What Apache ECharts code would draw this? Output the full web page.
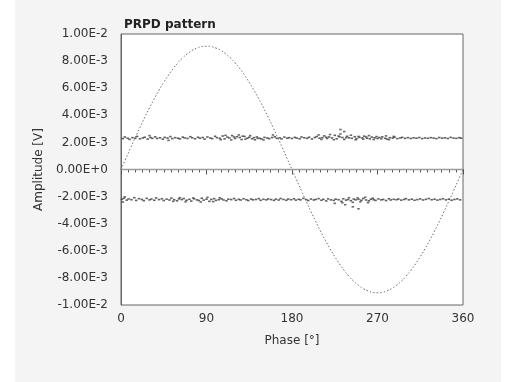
<!DOCTYPE html>
<html>
<head>
<meta charset="utf-8">
<script src="https://cdn.jsdelivr.net/npm/echarts@6/dist/echarts.min.js"></script>
<style>
html,body{margin:0;padding:0;background:#fff;}
#bg{position:absolute;left:15px;top:0;width:486px;height:382px;background:#f4f4f4;}
#chart{position:absolute;left:0;top:0;width:512px;height:382px;}
</style>
</head>
<body>
<div id="bg"></div>
<div id="chart"></div>
<script>
// Data (amplitudes in mV, converted to V for the axis)
var MV = 1e-3;
var xTicks = [0, 90, 180, 270, 360];
var sinePhase = [0,5,10,15,20,25,30,35,40,45,50,55,60,65,70,75,80,85,90,95,100,105,110,115,120,125,130,135,140,145,150,155,160,165,170,175,180,185,190,195,200,205,210,215,220,225,230,235,240,245,250,255,260,265,270,275,280,285,290,295,300,305,310,315,320,325,330,335,340,345,350,355,360];
var sineMV = [0,0.79,1.58,2.36,3.11,3.85,4.55,5.22,5.85,6.43,6.97,7.45,7.88,8.25,8.55,8.79,8.96,9.07,9.10,9.07,8.96,8.79,8.55,8.25,7.88,7.45,6.97,6.43,5.85,5.22,4.55,3.85,3.11,2.36,1.58,0.79,0,-0.79,-1.58,-2.36,-3.11,-3.85,-4.55,-5.22,-5.85,-6.43,-6.97,-7.45,-7.88,-8.25,-8.55,-8.79,-8.96,-9.07,-9.10,-9.07,-8.96,-8.79,-8.55,-8.25,-7.88,-7.45,-6.97,-6.43,-5.85,-5.22,-4.55,-3.85,-3.11,-2.36,-1.58,-0.79,0];
var zeroLine = [[0,0],[360,0]];
var upperBandMV = [[2,2.28],[4,2.40],[7,2.31],[9,2.22],[12,2.35],[15,2.30],[17,2.44],[20,2.27],[23,2.33],[25,2.38],[28,2.25],[31,2.36],[33,2.30],[36,2.41],[38,2.29],[41,2.34],[44,2.24],[46,2.37],[49,2.32],[52,2.43],[54,2.28],[57,2.35],[60,2.31],[62,2.26],[65,2.39],[67,2.33],[70,2.29],[73,2.42],[75,2.34],[78,2.27],[81,2.38],[83,2.31],[86,2.36],[88,2.24],[91,2.40],[94,2.32],[96,2.28],[99,2.45],[101,2.35],[104,2.30],[107,2.47],[109,2.26],[112,2.39],[114,2.33],[117,2.50],[120,2.29],[122,2.42],[125,2.36],[127,2.21],[130,2.44],[133,2.31],[135,2.38],[138,2.27],[140,2.35],[143,2.40],[146,2.30],[148,2.25],[151,2.37],[154,2.32],[156,2.28],[159,2.36],[162,2.41],[164,2.30],[167,2.34],[169,2.26],[172,2.39],[175,2.31],[177,2.35],[180,2.29],[183,2.37],[185,2.32],[188,2.27],[190,2.40],[193,2.34],[196,2.30],[198,2.38],[201,2.25],[204,2.36],[206,2.43],[209,2.31],[212,2.35],[214,2.48],[217,2.29],[219,2.40],[222,2.33],[225,2.52],[227,2.27],[230,2.41],[233,2.36],[235,2.22],[238,2.45],[240,2.34],[243,2.30],[246,2.42],[248,2.28],[251,2.37],[254,2.33],[256,2.46],[259,2.31],[262,2.26],[264,2.39],[267,2.34],[270,2.29],[272,2.36],[275,2.41],[278,2.30],[280,2.25],[283,2.35],[286,2.32],[288,2.38],[291,2.28],[294,2.33],[296,2.37],[299,2.30],[302,2.35],[305,2.29],[308,2.34],[311,2.31],[314,2.36],[317,2.28],[320,2.33],[323,2.30],[326,2.35],[329,2.32],[332,2.28],[335,2.36],[338,2.31],[341,2.34],[344,2.29],[347,2.37],[350,2.32],[353,2.30],[356,2.35],[358,2.31]];
var upperExtraMV = [[105,2.20],[110,2.52],[116,2.18],[119,2.40],[124,2.55],[128,2.46],[131,2.24],[136,2.50],[141,2.19],[144,2.30],[208,2.55],[211,2.22],[216,2.38],[220,2.58],[224,2.20],[229,2.47],[231,2.62],[237,2.35],[242,2.53],[247,2.19],[250,2.44],[255,2.24],[258,2.40],[261,2.50],[266,2.21],[269,2.43],[274,2.27],[279,2.48],[282,2.20],[287,2.44],[235,2.80],[231,2.95],[50,2.15],[30,2.50],[160,2.55],[150,2.18]];
var lowerBandMV = [[1,-2.20],[3,-2.12],[6,-2.26],[8,-2.17],[11,-2.23],[14,-2.08],[16,-2.28],[19,-2.15],[22,-2.21],[24,-2.30],[27,-2.13],[30,-2.24],[32,-2.18],[35,-2.27],[37,-2.10],[40,-2.22],[43,-2.16],[45,-2.29],[48,-2.19],[51,-2.25],[53,-2.11],[56,-2.23],[59,-2.31],[61,-2.17],[64,-2.22],[66,-2.14],[69,-2.27],[72,-2.20],[74,-2.33],[77,-2.16],[80,-2.24],[82,-2.29],[85,-2.12],[87,-2.26],[90,-2.19],[93,-2.35],[95,-2.21],[98,-2.15],[100,-2.28],[103,-2.23],[106,-2.17],[108,-2.25],[111,-2.31],[113,-2.19],[116,-2.22],[119,-2.14],[121,-2.27],[124,-2.20],[126,-2.25],[129,-2.16],[132,-2.23],[134,-2.29],[137,-2.18],[139,-2.24],[142,-2.21],[145,-2.15],[147,-2.27],[150,-2.20],[153,-2.24],[155,-2.17],[158,-2.22],[161,-2.28],[163,-2.19],[166,-2.25],[168,-2.14],[171,-2.21],[174,-2.27],[176,-2.18],[179,-2.23],[182,-2.16],[184,-2.26],[187,-2.20],[189,-2.24],[192,-2.13],[195,-2.22],[197,-2.29],[200,-2.18],[203,-2.25],[205,-2.21],[208,-2.15],[211,-2.27],[213,-2.20],[216,-2.32],[218,-2.17],[221,-2.24],[224,-2.28],[226,-2.19],[229,-2.23],[232,-2.35],[234,-2.16],[237,-2.26],[239,-2.21],[242,-2.30],[245,-2.18],[247,-2.24],[250,-2.20],[253,-2.27],[255,-2.14],[258,-2.25],[261,-2.31],[263,-2.19],[266,-2.23],[268,-2.28],[271,-2.17],[274,-2.24],[276,-2.21],[279,-2.29],[282,-2.16],[284,-2.25],[287,-2.20],[290,-2.23],[292,-2.18],[295,-2.26],[298,-2.21],[300,-2.15],[303,-2.24],[306,-2.19],[309,-2.27],[312,-2.22],[315,-2.17],[318,-2.25],[321,-2.20],[324,-2.14],[327,-2.23],[330,-2.19],[333,-2.26],[336,-2.21],[339,-2.16],[342,-2.24],[345,-2.19],[348,-2.27],[351,-2.21],[354,-2.17],[357,-2.24]];
var lowerExtraMV = [[55,-2.35],[62,-2.08],[68,-2.38],[76,-2.10],[84,-2.40],[91,-2.06],[97,-2.37],[104,-2.09],[233,-2.45],[236,-2.60],[240,-2.08],[244,-2.42],[249,-2.10],[252,-2.38],[257,-2.05],[260,-2.44],[265,-2.12],[244,-2.75],[250,-2.90],[225,-2.50],[2,-2.40],[4,-2.02]];

function toV(arr){ return arr.map(function(p){ return [p[0], p[1]*MV]; }); }
var sineData = sinePhase.map(function(ph, i){ return [ph, sineMV[i]*MV]; });
var FONT = 'DejaVu Sans';

var chart = echarts.init(document.getElementById('chart'), null, {renderer:'canvas'});
chart.setOption({
  backgroundColor: 'transparent',
  animation: false,
  title: {
    text: 'PRPD pattern', left: 119, top: 14,
    textStyle: {fontFamily: FONT, fontSize: 12, fontWeight: 'bold', color: '#222'}
  },
  grid: {
    left: 121, right: 49, top: 34, bottom: 77,
    show: true, backgroundColor: '#ffffff', borderColor: '#666', borderWidth: 1
  },
  xAxis: {
    type: 'value', min: 0, max: 360, interval: 90,
    name: 'Phase [°]', nameLocation: 'middle', nameGap: 30,
    nameTextStyle: {fontFamily: FONT, fontSize: 12, color: '#333'},
    axisLine: {show: true, lineStyle: {color: '#666', width: 1}},
    axisTick: {show: true, length: 5, lineStyle: {color: '#555'}},
    minorTick: {show: true, splitNumber: 12, length: 3, lineStyle: {color: '#555'}},
    splitLine: {show: false},
    axisLabel: {fontFamily: FONT, fontSize: 12, color: '#333', margin: 8,
      formatter: function(v){ return xTicks.indexOf(v) >= 0 ? String(v) : ''; }}
  },
  yAxis: {
    type: 'value', min: -0.01, max: 0.01, interval: 0.002,
    name: 'Amplitude [V]', nameLocation: 'middle', nameGap: 70, nameRotate: 90,
    nameTextStyle: {fontFamily: FONT, fontSize: 12, color: '#333'},
    axisLine: {show: true, lineStyle: {color: '#666', width: 1}},
    axisTick: {show: false},
    splitLine: {show: false},
    axisLabel: {fontFamily: FONT, fontSize: 12, color: '#333', margin: 13,
      formatter: function(v){ var r = Math.round(v/0.001)*0.001; return r.toExponential(2).toUpperCase(); }}
  },
  series: [
    {type: 'line', data: zeroLine, symbol: 'none', silent: true,
     lineStyle: {color: '#9a9a9a', width: 1.5}, z: 1},
    {type: 'line', data: sineData, symbol: 'none', smooth: true, silent: true,
     lineStyle: {color: '#6f6f6f', width: 1, type: [1.5, 2]}, z: 2},
    {type: 'scatter', data: toV(upperBandMV), symbol: 'rect', symbolSize: [2.5, 1.6],
     itemStyle: {color: '#3a3a3a'}, z: 3},
    {type: 'scatter', data: toV(upperExtraMV), symbol: 'rect', symbolSize: [2.5, 1.6],
     itemStyle: {color: '#444'}, z: 3},
    {type: 'scatter', data: toV(lowerBandMV), symbol: 'rect', symbolSize: [2.5, 1.6],
     itemStyle: {color: '#3a3a3a'}, z: 3},
    {type: 'scatter', data: toV(lowerExtraMV), symbol: 'rect', symbolSize: [2.5, 1.6],
     itemStyle: {color: '#444'}, z: 3}
  ]
});
</script>
</body>
</html>
